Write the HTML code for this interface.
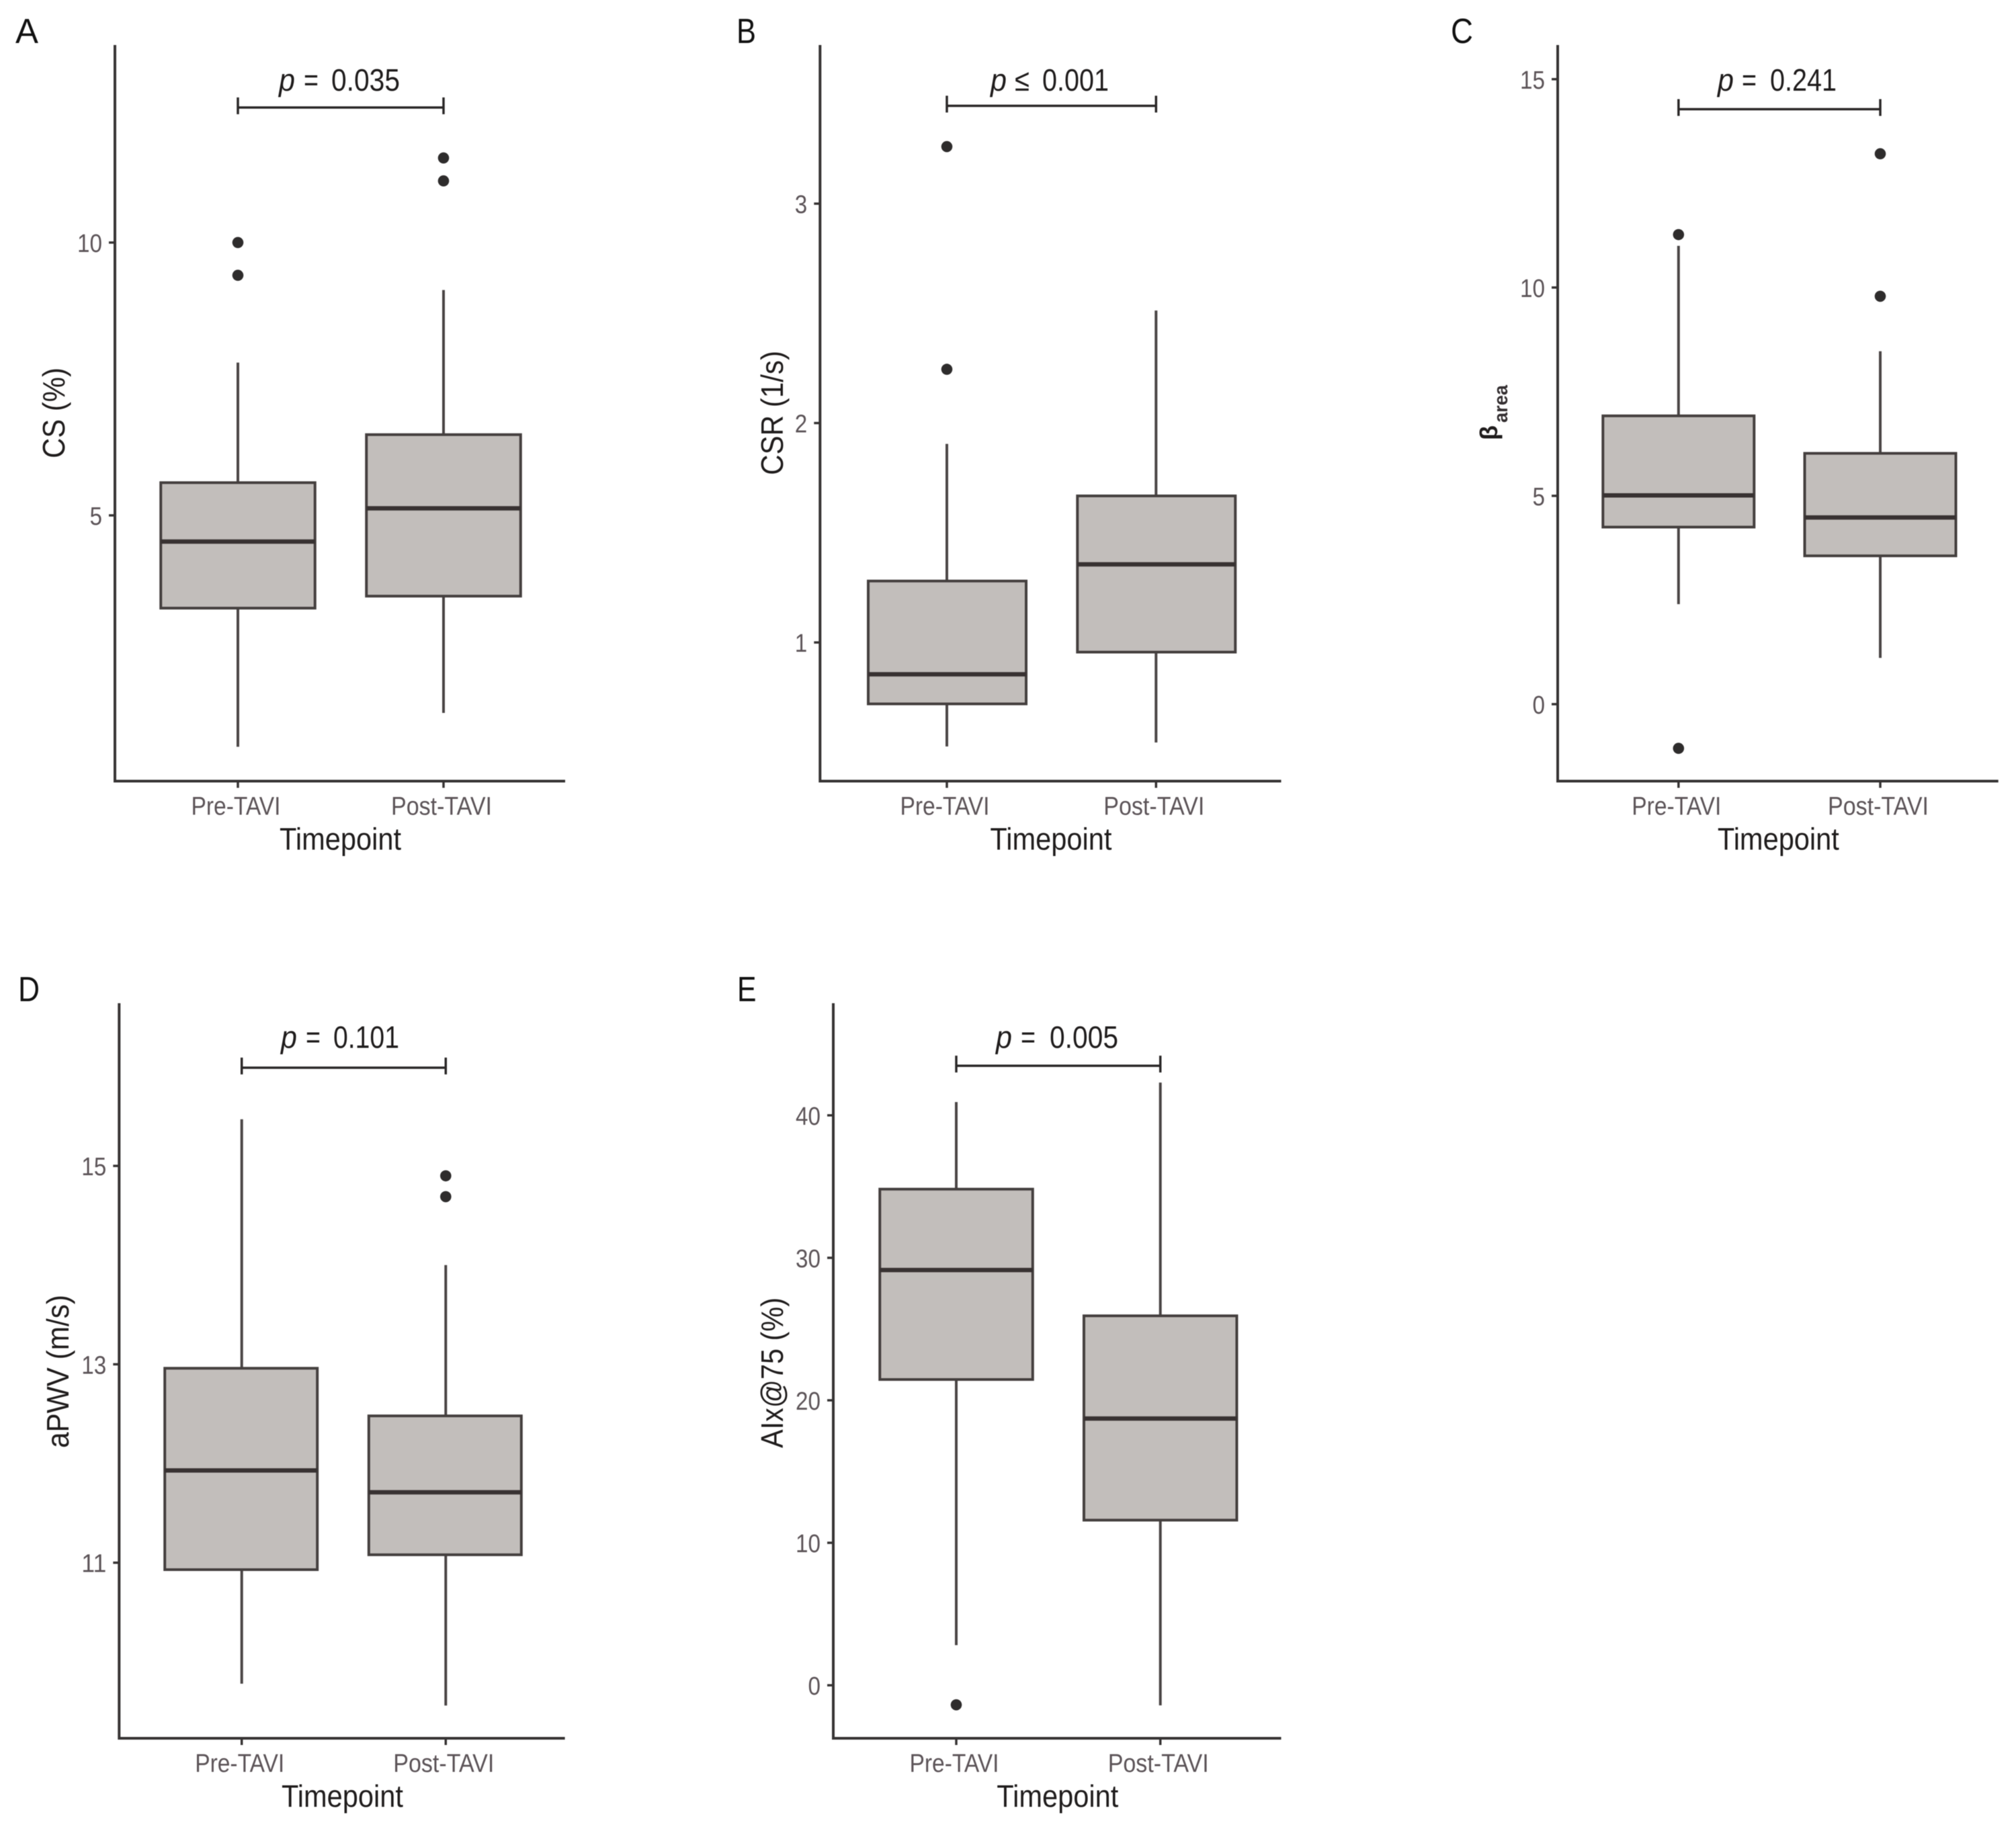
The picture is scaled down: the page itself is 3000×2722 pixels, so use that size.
<!DOCTYPE html>
<html lang="en">
<head>
<meta charset="utf-8">
<title>Boxplots Pre-TAVI vs Post-TAVI</title>
<style>
html,body{margin:0;padding:0;background:#fff;width:3000px;height:2722px;overflow:hidden}
svg{display:block;filter:blur(0.6px)}
text{font-family:"Liberation Sans",Arial,sans-serif}
</style>
</head>
<body>
<svg id="figure" xmlns="http://www.w3.org/2000/svg" width="3000" height="2722" viewBox="0 0 3000 2722"></svg>
<script>
const categories = ['Pre-TAVI', 'Post-TAVI'];

const csTicks = [5, 10];
const csQ1 = [3.30, 3.52];
const csMedian = [4.52, 5.13];
const csQ3 = [5.60, 6.48];
const csWhiskerLow = [0.76, 1.38];
const csWhiskerHigh = [7.80, 9.13];
const csOutliers = [[10.0, 9.40], [11.55, 11.13]];

const csrTicks = [1, 2, 3];
const csrQ1 = [0.72, 0.956];
const csrMedian = [0.855, 1.356];
const csrQ3 = [1.28, 1.668];
const csrWhiskerLow = [0.526, 0.544];
const csrWhiskerHigh = [1.905, 2.513];
const csrOutliers = [[3.26, 2.245], []];

const betaTicks = [0, 5, 10, 15];
const betaQ1 = [4.25, 3.56];
const betaMedian = [5.01, 4.48];
const betaQ3 = [6.92, 6.02];
const betaWhiskerLow = [2.40, 1.11];
const betaWhiskerHigh = [11.0, 8.47];
const betaOutliers = [[11.27, -1.06], [13.21, 9.79]];

const pwvTicks = [11, 13, 15];
const pwvQ1 = [10.93, 11.08];
const pwvMedian = [11.93, 11.71];
const pwvQ3 = [12.96, 12.48];
const pwvWhiskerLow = [9.78, 9.56];
const pwvWhiskerHigh = [15.47, 14.0];
const pwvOutliers = [[], [14.90, 14.69]];

const aixTicks = [0, 10, 20, 30, 40];
const aixQ1 = [21.46, 11.59];
const aixMedian = [29.14, 18.72];
const aixQ3 = [34.82, 25.93];
const aixWhiskerLow = [2.82, -1.41];
const aixWhiskerHigh = [40.93, 42.3];
const aixOutliers = [[-1.37], []];

const panels = [
  {id:'a', letter:'A', lx:23, ly:64, lw:34, left:171, right:841, top:67, bottom:1162.5, min:0.13, max:13.62, x0:354, band:306, boxW:229.5, boxShift:0,
   ticks:csTicks, q1:csQ1, med:csMedian, q3:csQ3, lo:csWhiskerLow, hi:csWhiskerHigh, out:csOutliers,
   bracket:12.475, pOp:'=', pVal:'0.035', px:415, opx:452, valx:493, valw:102, pBase:135, title:'CS (%)', tx:96, ty:614.5, tl:135},
  {id:'b', letter:'B', lx:1096, ly:64, lw:29, left:1220.3, right:1906.5, top:67, bottom:1162.5, min:0.368, max:3.723, x0:1409, band:311.3, boxW:235, boxShift:0.5,
   ticks:csrTicks, q1:csrQ1, med:csrMedian, q3:csrQ3, lo:csrWhiskerLow, hi:csrWhiskerHigh, out:csrOutliers,
   bracket:3.446, pOp:'\u2264', pVal:'0.001', px:1474, opx:1510, valx:1551, valw:99, pBase:135, title:'CSR (1/s)', tx:1165, ty:614.5, tl:185},
  {id:'c', letter:'C', lx:2159, ly:64, lw:33, left:2318, right:2973.7, top:67, bottom:1162.5, min:-1.847, max:15.82, x0:2497.8, band:300.2, boxW:225, boxShift:0,
   ticks:betaTicks, q1:betaQ1, med:betaMedian, q3:betaQ3, lo:betaWhiskerLow, hi:betaWhiskerHigh, out:betaOutliers,
   bracket:14.28, pOp:'=', pVal:'0.241', px:2556, opx:2592, valx:2634, valw:99, pBase:135, title:null},
  {id:'d', letter:'D', lx:27, ly:1490, lw:32, left:177.3, right:840.6, top:1493, bottom:2587, min:9.23, max:16.64, x0:359.7, band:303.6, boxW:227, boxShift:-1,
   ticks:pwvTicks, q1:pwvQ1, med:pwvMedian, q3:pwvQ3, lo:pwvWhiskerLow, hi:pwvWhiskerHigh, out:pwvOutliers,
   bracket:15.99, pOp:'=', pVal:'0.101', px:418, opx:455, valx:496, valw:98, pBase:1559.5, title:'aPWV (m/s)', tx:102, ty:2041, tl:228},
  {id:'e', letter:'E', lx:1097, ly:1490, lw:28.5, left:1240, right:1906.5, top:1493, bottom:2587, min:-3.72, max:47.87, x0:1423, band:303.7, boxW:227.5, boxShift:0,
   ticks:aixTicks, q1:aixQ1, med:aixMedian, q3:aixQ3, lo:aixWhiskerLow, hi:aixWhiskerHigh, out:aixOutliers,
   bracket:43.48, pOp:'=', pVal:'0.005', px:1482, opx:1519, valx:1562, valw:102, pBase:1559.5, title:'AIx@75 (%)', tx:1165, ty:2043, tl:224}
];

const SVGNS = 'http://www.w3.org/2000/svg';
const root = document.getElementById('figure');

function make(parent, tag, attrs) {
  const node = document.createElementNS(SVGNS, tag);
  for (const k in attrs) node.setAttribute(k, attrs[k]);
  parent.appendChild(node);
  return node;
}

function drawPanel(p) {
  const yScale = v => p.bottom - (v - p.min) / (p.max - p.min) * (p.bottom - p.top);
  const xScale = i => p.x0 + p.band * i;
  const axisColor = '#363333', boxLine = '#443f3e', labelColor = '#5c5458', titleColor = '#1f1c1c';

  let el = make(root, 'g', {});
  
  
  const g = el;

  el = make(g, 'text', {x:p.lx, y:p.ly, 'font-size':52, fill:'#111', textLength:p.lw, lengthAdjust:'spacingAndGlyphs'});
  el.textContent = p.letter;
  
  

  // boxes, whiskers, outliers
  categories.forEach((cat, i) => {
    const cx = xScale(i), half = p.boxW / 2, bx = cx + p.boxShift;

    el = make(g, 'line', {x1:cx, x2:cx, y1:yScale(p.hi[i]), y2:yScale(p.q3[i]), stroke:'#4a4545', 'stroke-width':4});
    
    

    el = make(g, 'line', {x1:cx, x2:cx, y1:yScale(p.q1[i]), y2:yScale(p.lo[i]), stroke:'#4a4545', 'stroke-width':4});
    
    

    el = make(g, 'rect', {x:bx - half, y:yScale(p.q3[i]), width:p.boxW, height:yScale(p.q1[i]) - yScale(p.q3[i]), fill:'#c2bebb', stroke:boxLine, 'stroke-width':4});
    
    

    el = make(g, 'line', {x1:bx - half, x2:bx + half, y1:yScale(p.med[i]), y2:yScale(p.med[i]), stroke:'#383232', 'stroke-width':6.5});
    
    

    p.out[i].forEach(v => {
      el = make(g, 'circle', {cx:cx, cy:yScale(v), r:8.3, fill:'#2e2c2c'});
      
      
    });

    el = make(g, 'line', {x1:cx, x2:cx, y1:p.bottom, y2:p.bottom + 10, stroke:axisColor, 'stroke-width':3.5});
    
    

    const w = i === 0 ? 133 : 150;
    el = make(g, 'text', {x:cx - 3 - w / 2, y:p.bottom + 50, 'font-size':38, fill:labelColor, textLength:w, lengthAdjust:'spacingAndGlyphs'});
    el.textContent = cat;
    
    
  });

  // axes
  el = make(g, 'line', {x1:p.left, x2:p.left, y1:p.top, y2:p.bottom + 2, stroke:axisColor, 'stroke-width':4});
  
  

  el = make(g, 'line', {x1:p.left, x2:p.right, y1:p.bottom, y2:p.bottom, stroke:axisColor, 'stroke-width':4});
  
  

  // y ticks
  p.ticks.forEach(t => {
    const y = yScale(t), label = String(t), w = label.length * 18.5;
    el = make(g, 'line', {x1:p.left - 9, x2:p.left, y1:y, y2:y, stroke:axisColor, 'stroke-width':3.5});
    
    

    el = make(g, 'text', {x:p.left - 19 - w, y:y + 14, 'font-size':38, fill:labelColor, textLength:w, lengthAdjust:'spacingAndGlyphs'});
    el.textContent = label;
    
    
  });

  // x axis title
  const midX = (p.left + p.right) / 2 + 0.5;
  el = make(g, 'text', {x:midX - 90.5, y:p.bottom + 102, 'font-size':46, fill:titleColor, textLength:181, lengthAdjust:'spacingAndGlyphs'});
  el.textContent = 'Timepoint';
  
  

  // y axis title
  if (p.title) {
    el = make(g, 'text', {x:p.tx, y:p.ty + p.tl / 2, transform:'rotate(-90 ' + p.tx + ' ' + (p.ty + p.tl / 2) + ')', 'font-size':46, fill:titleColor, textLength:p.tl, lengthAdjust:'spacingAndGlyphs'});
    el.textContent = p.title;
    
    
  } else {
    el = make(g, 'text', {transform:'translate(2228 655) rotate(-90)', 'font-size':36, 'font-weight':'bold', fill:titleColor});
    el.textContent = '\u03B2';
    
    

    el = make(g, 'text', {transform:'translate(2243 629) rotate(-90)', 'font-size':29, 'font-weight':'bold', fill:'#332e30', textLength:56, lengthAdjust:'spacingAndGlyphs'});
    el.textContent = 'area';
    
    
  }

  // significance bracket
  const by = yScale(p.bracket), bx1 = xScale(0), bx2 = xScale(1);
  el = make(g, 'line', {x1:bx1, x2:bx2, y1:by, y2:by, stroke:'#2a2727', 'stroke-width':3.5});
  
  

  el = make(g, 'line', {x1:bx1, x2:bx1, y1:by - 15, y2:by + 10, stroke:'#2a2727', 'stroke-width':3.5});
  
  

  el = make(g, 'line', {x1:bx2, x2:bx2, y1:by - 15, y2:by + 10, stroke:'#2a2727', 'stroke-width':3.5});
  
  

  el = make(g, 'text', {x:p.px, y:p.pBase, 'font-size':46, 'font-style':'italic', fill:titleColor, textLength:24, lengthAdjust:'spacingAndGlyphs'});
  el.textContent = 'p';
  
  

  el = make(g, 'text', {x:p.opx, y:p.pBase, 'font-size':46, fill:titleColor, textLength:22, lengthAdjust:'spacingAndGlyphs'});
  el.textContent = p.pOp;
  
  

  el = make(g, 'text', {x:p.valx, y:p.pBase, 'font-size':46, fill:titleColor, textLength:p.valw, lengthAdjust:'spacingAndGlyphs'});
  el.textContent = p.pVal;
  
  
}

panels.forEach(drawPanel);
</script>
</body>
</html>
